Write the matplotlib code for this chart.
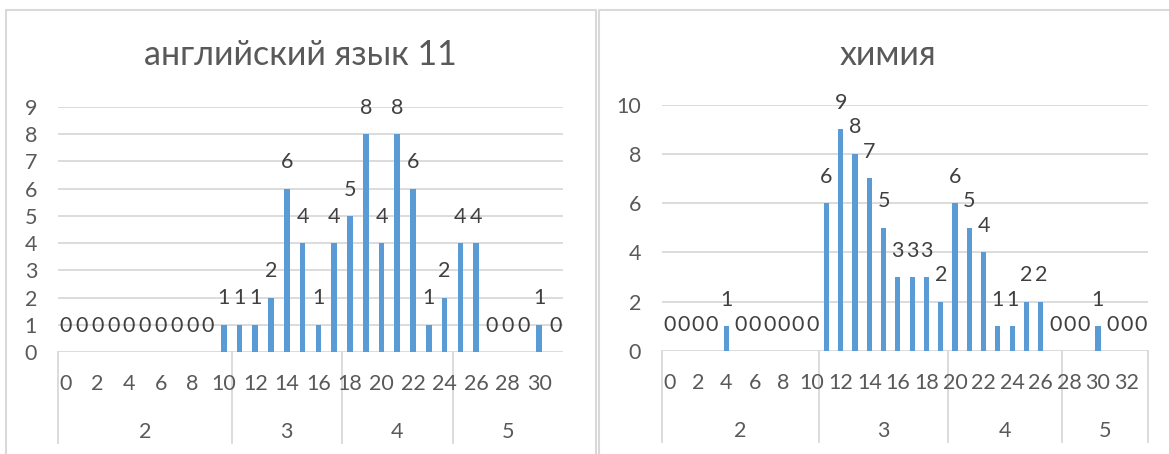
import matplotlib.pyplot as plt
from matplotlib.lines import Line2D
from matplotlib.transforms import blended_transform_factory

plt.rcParams['font.family'] = ['Lato', 'DejaVu Sans']

BAR_COLOR = '#5B9BD5'
GRID_COLOR = '#D9D9D9'
TEXT_COLOR = '#595959'
DATA_LABEL_COLOR = '#404040'
LABEL_SIZE = 15.5

# английский язык 11
eng_title = 'английский язык 11'
eng_scores = list(range(32))
eng_counts = [0, 0, 0, 0, 0, 0, 0, 0, 0, 0,
              1, 1, 1, 2, 6, 4, 1, 4, 5, 8, 4, 8, 6, 1, 2, 4, 4,
              0, 0, 0, 1, 0]
eng_grades = ['2', '3', '4', '5']
eng_group_sizes = [11, 7, 7, 7]

# химия
chem_title = 'химия'
chem_scores = list(range(34))
chem_counts = [0, 0, 0, 0, 1, 0, 0, 0, 0, 0, 0,
               6, 9, 8, 7, 5, 3, 3, 3, 2,
               6, 5, 4, 1, 1, 2, 2, 0,
               0, 0, 1, 0, 0, 0]
chem_grades = ['2', '3', '4', '5']
chem_group_sizes = [11, 9, 8, 6]

W, H = 1169, 454
fig = plt.figure(figsize=(W / 100, H / 100), dpi=100)


def px_box(x0, y_top, x1, y_bottom):
    """pixel box -> figure fraction rect"""
    return [x0 / W, 1 - y_bottom / H, (x1 - x0) / W, (y_bottom - y_top) / H]


def draw_panel(rect, title, title_x, scores, counts, grades, group_sizes, ymax, ystep, right_line):
    ax = fig.add_axes(rect)
    n = len(scores)
    ax.bar(range(n), counts, width=0.36, color=BAR_COLOR, zorder=3)
    ax.set_xlim(-0.5, n - 0.5)
    ax.set_ylim(0, ymax)
    ax.set_yticks(range(0, ymax + 1, ystep))
    ax.tick_params(axis='y', length=0, pad=15, labelsize=LABEL_SIZE, labelcolor=TEXT_COLOR)
    ax.yaxis.grid(True, color=GRID_COLOR, linewidth=1.3, zorder=0)
    ax.set_xticks([])
    for s in ax.spines.values():
        s.set_visible(False)

    for i, v in enumerate(counts):
        ax.annotate(str(v), (i, v), xytext=(0, 19), textcoords='offset points',
                    ha='center', va='center', fontsize=LABEL_SIZE, color=DATA_LABEL_COLOR)

    # two-level category axis
    tr = blended_transform_factory(ax.transData, ax.transAxes)
    px = 1 / (rect[3] * H)  # one pixel in axes units
    for i in range(0, n, 2):
        ax.text(scores[i], -32 * px, str(scores[i]), transform=tr, ha='center', va='center',
                fontsize=LABEL_SIZE, color=TEXT_COLOR)
    edges = [-0.5]
    for size in group_sizes:
        edges.append(edges[-1] + size)
    for g, lo, hi in zip(grades, edges[:-1], edges[1:]):
        ax.text((lo + hi) / 2, -80 * px, g, transform=tr, ha='center', va='center',
                fontsize=LABEL_SIZE, color=TEXT_COLOR)
    line_edges = edges if right_line else edges[:-1]
    for e in line_edges:
        ax.add_line(Line2D([e, e], [0, -91 * px], transform=tr, color=GRID_COLOR,
                           linewidth=1.3, clip_on=False))

    fig.text(title_x / W, 1 - 55 / H, title, ha='center', va='center', fontsize=24.5, color=TEXT_COLOR)
    return ax


draw_panel(px_box(58, 107, 563, 352), eng_title, 300, eng_scores, eng_counts,
           eng_grades, eng_group_sizes, 9, 1, False)
draw_panel(px_box(662, 104.5, 1148, 351), chem_title, 888, chem_scores, chem_counts,
           chem_grades, chem_group_sizes, 10, 2, True)

# chart borders
for x0, x1 in [(6, 596), (599, 1200)]:
    xs = [x1 / W, x0 / W, x0 / W, x1 / W, x1 / W]
    ys = [-0.1, -0.1, 1 - 10 / H, 1 - 10 / H, -0.1]
    fig.add_artist(Line2D(xs, ys, color=GRID_COLOR, linewidth=1.5))

fig.savefig('out.png', dpi=100, facecolor='white')
